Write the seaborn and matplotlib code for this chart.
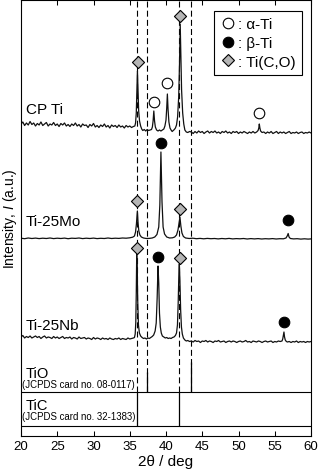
import numpy as np
import pandas as pd
import matplotlib
matplotlib.use("Agg")
import matplotlib.pyplot as plt
from matplotlib.lines import Line2D
import seaborn as sns

# ---------------- data ----------------
def seg(start, step, vals):
    return [(start + i * step, v) for i, v in enumerate(vals)]

# CP Ti pattern (intensity, a.u.)
cp_ti = (
    seg(20.0, 0.25, [11, 13, 9.5, 12, 10, 13.5, 10.5, 12, 9, 11.5, 10, 13, 9.5, 11, 12.5, 9,
                     11, 10, 12.5, 9.5, 11, 8.5, 11.5, 10, 12, 9, 10.5, 8.5, 11, 9.5, 12, 9,
                     10.5, 8, 11, 9.5, 10, 7.5, 10.5, 9, 11.5, 8, 9.5, 7.5, 10, 8.5, 11, 8,
                     9.5, 7, 10, 8.5, 9.5, 7.5, 10, 8, 9, 7, 9.5, 8, 9, 7.5, 8.5])
    + [(35.7, 9), (35.8, 12), (35.9, 22), (35.98, 45), (36.06, 64), (36.14, 44), (36.23, 24),
       (36.35, 14), (36.5, 9), (36.65, 6), (36.8, 4.5), (37.0, 5.5), (37.2, 4), (37.4, 5.5),
       (37.6, 4.5), (37.8, 5), (38.0, 5.5), (38.12, 8), (38.22, 14), (38.32, 24), (38.42, 14),
       (38.53, 8), (38.7, 5), (38.9, 4), (39.1, 5), (39.3, 4), (39.5, 5), (39.7, 6), (39.85, 9),
       (40.0, 15), (40.1, 27), (40.19, 41), (40.28, 26), (40.4, 13), (40.55, 7), (40.7, 5),
       (40.85, 3.5), (41.0, 4.5), (41.15, 5.5), (41.3, 7), (41.45, 10), (41.6, 18), (41.75, 38),
       (41.86, 70), (41.96, 111), (42.05, 80), (42.15, 45), (42.3, 22), (42.45, 11), (42.6, 5),
       (42.8, 3), (43.0, 2.5), (43.25, 3.5)]
    + seg(43.5, 0.25, [3, 1.5, 3.5, 2, 4, 2.5, 3.5, 1.5, 3, 4, 2, 3.5, 2.5, 4, 2, 3, 1.5, 3.5,
                       2.5, 4, 2, 3, 1.5, 3.5, 2.5, 3.5, 1.5, 3, 2, 3.5, 2.5, 1.5, 3, 2, 3.5, 2, 3])
    + [(52.7, 4.5), (52.8, 7), (52.87, 11), (52.95, 7), (53.05, 4)]
    + seg(53.25, 0.25, [2.5, 3, 1.5, 3, 2, 3.5, 1.5, 2.5, 3.5, 1.5, 3, 2, 3, 1.5, 2.5, 3.5,
                        1.5, 2.5, 2, 3, 1.5, 2.5, 3, 1.5, 2.5, 2, 3, 2])
)

# Ti-25Mo pattern
ti25mo = [
    (20, 1.8), (20.5, 1.3), (21, 2), (21.5, 1.5), (22, 1.9), (22.5, 1.4), (23, 1.8), (23.5, 1.5),
    (24, 2), (24.5, 1.4), (25, 1.8), (25.5, 1.5), (26, 1.9), (26.5, 1.3), (27, 1.8), (27.5, 1.6),
    (28, 2), (28.5, 1.4), (29, 1.8), (29.5, 1.5), (30, 1.9), (30.5, 1.4), (31, 1.7), (31.5, 1.5),
    (32, 2), (32.5, 1.5), (33, 1.8), (33.5, 1.6), (34, 2), (34.5, 1.8), (35, 2.2), (35.4, 2.8),
    (35.65, 4), (35.8, 8), (35.92, 16), (36.05, 29), (36.15, 17), (36.25, 9), (36.4, 5),
    (36.6, 3), (36.9, 2), (37.3, 1.5), (37.7, 1.6), (38.1, 2), (38.45, 3), (38.75, 5.5),
    (39.0, 13), (39.15, 35), (39.3, 88), (39.45, 38), (39.6, 13), (39.8, 6), (40.1, 3),
    (40.5, 2), (40.9, 2.2), (41.2, 3), (41.45, 5), (41.65, 10), (41.8, 17), (41.92, 23),
    (42.05, 14), (42.2, 7), (42.4, 3.5), (42.7, 2), (43.2, 1.5), (43.7, 1.8), (44.2, 1.3),
    (44.7, 1.6), (45.2, 1.2), (45.7, 1.6), (46.2, 1.3), (46.7, 1.5), (47.2, 1.1), (47.7, 1.5),
    (48.2, 1.2), (48.7, 1.6), (49.2, 1.1), (49.7, 1.4), (50.2, 1.2), (50.7, 1.5), (51.2, 1),
    (51.7, 1.4), (52.2, 1.1), (52.7, 1.4), (53.2, 1), (53.7, 1.3), (54.2, 1.1), (54.7, 1.4),
    (55.2, 1), (55.7, 1.3), (56.2, 1.2), (56.55, 2), (56.72, 4), (56.85, 6.5), (56.97, 3),
    (57.15, 1.5), (57.6, 1.1), (58.1, 1.3), (58.6, 0.9), (59.1, 1.2), (59.6, 0.9), (60, 1.1),
]

# Ti-25Nb pattern
ti25nb = (
    seg(20.0, 0.25, [6, 7.5, 5, 6.5, 5.5, 7, 5, 6, 7, 5.5, 6.5, 4.5, 6, 7, 5, 6, 5.5, 4.5, 6.5, 5,
                     6, 4.5, 5.5, 6.5, 4.5, 5.5, 5, 6, 4, 5.5, 5, 4, 6, 4.5, 5, 5.5, 4, 5, 4.5, 3.5,
                     5.5, 4, 5, 4.5, 3.5, 5, 4, 4.5, 3.5, 5, 4, 3.5, 4.5, 4, 5, 3.5, 4.5, 4, 3.5, 5,
                     4, 4.5, 5])
    + [(35.65, 5.5), (35.75, 9), (35.83, 20), (35.9, 50), (35.96, 89), (36.03, 72), (36.1, 42),
       (36.2, 18), (36.33, 10), (36.5, 7), (36.7, 5.5), (36.9, 4.5), (37.1, 5), (37.3, 4),
       (37.5, 5), (37.7, 4.5), (37.9, 5.5), (38.1, 6.5), (38.3, 8), (38.5, 12), (38.65, 20),
       (38.78, 45), (38.9, 77), (39.0, 60), (39.1, 30), (39.22, 16), (39.35, 10), (39.5, 7),
       (39.7, 6), (39.9, 5), (40.1, 5.5), (40.3, 4.5), (40.5, 5), (40.7, 4.5), (40.9, 5.5),
       (41.1, 6), (41.3, 7.5), (41.45, 10), (41.58, 18), (41.68, 40), (41.78, 70), (41.84, 79),
       (41.92, 62), (42.02, 33), (42.13, 16), (42.25, 9), (42.4, 5), (42.6, 3), (42.8, 2),
       (43.0, 2.5), (43.25, 1.5)]
    + seg(43.5, 0.25, [2, 1, 2.5, 1.5, 2, 0.5, 2, 1.5, 2.5, 1, 2, 1.5, 0.5, 2, 1.5, 2.5, 1, 1.5,
                       2, 0.5, 1.5, 2, 1, 2, 1.5, 0.5, 1.5, 2, 1, 1.5, 2.5, 1, 1.5, 0.5, 2, 1.5,
                       1, 2, 1.5, 0.5, 1.5, 2, 1, 1.5, 2, 0.5, 1.5, 1, 2, 1.5])
    + [(56.0, 2), (56.1, 4), (56.2, 8), (56.27, 11), (56.35, 6), (56.45, 3), (56.6, 1.5)]
    + seg(56.75, 0.25, [1, 1.5, 0.5, 1.5, 1, 2, 0.5, 1.5, 1, 1.5, 0.5, 1.5, 1, 1.5])
)

trace_names = ["CP Ti", "Ti-25Mo", "Ti-25Nb"]
trace_data = [cp_ti, ti25mo, ti25nb]

# phase markers: (trace, 2theta, phase, marker height a.u.)
marker_trace = ["CP Ti"] * 5 + ["Ti-25Mo"] * 4 + ["Ti-25Nb"] * 4
marker_theta = [36.1, 38.3, 40.2, 41.97, 52.87, 36.05, 39.35, 41.92, 56.87, 35.98, 38.92, 41.88, 56.27]
marker_phase = ["TiCO", "alpha", "alpha", "TiCO", "alpha",
                "TiCO", "beta", "TiCO", "beta",
                "TiCO", "beta", "TiCO", "beta"]
marker_height = [73, 33, 52, 119, 22, 39, 97, 31, 20, 95, 86, 85, 21]

# reference cards (2theta, stick height)
tio_theta = [37.35, 43.4]
tio_height = [20.3, 30.3]
tic_theta = [35.96, 41.79]
tic_height = [34, 34]

legend_labels = [": α-Ti", ": β-Ti", ": Ti(C,O)"]
x_ticks = [20, 25, 30, 35, 40, 45, 50, 55, 60]

# ---------------- layout ----------------
offsets = {"CP Ti": 300.5, "Ti-25Mo": 195.5, "Ti-25Nb": 92.5}
label_y = {"CP Ti": 322.5, "Ti-25Mo": 210, "Ti-25Nb": 106.5}
tio_base = 43.2
tic_base = 9.2
y_top = 436

sns.set_style("ticks")
plt.rcParams["font.family"] = ["Liberation Sans", "DejaVu Sans"]
plt.rcParams["mathtext.fontset"] = "custom"
plt.rcParams["mathtext.it"] = "Liberation Sans:italic"
plt.rcParams["mathtext.rm"] = "Liberation Sans"
plt.rcParams["lines.scale_dashes"] = False
plt.rcParams["text.color"] = "black"
plt.rcParams["axes.labelcolor"] = "black"
plt.rcParams["xtick.color"] = "black"

fig = plt.figure(figsize=(3.2, 4.77), dpi=100)
ax = fig.add_axes([21 / 320, (477 - 436.5) / 477, 290 / 320, 436 / 477])

# dashed guide lines
for t in tic_theta + tio_theta:
    ax.plot([t, t], [tio_base, y_top], color="black", lw=0.8, ls=(0, (4.3, 2.3)), zorder=1)

# patterns
for name, pts in zip(trace_names, trace_data):
    df = pd.DataFrame(pts, columns=["two_theta", "intensity"])
    df["y"] = df["intensity"] + offsets[name]
    sns.lineplot(data=df, x="two_theta", y="y", color="#111111", lw=0.9,
                 estimator=None, sort=True, ax=ax, zorder=2)
    ax.text(20.7, label_y[name], name, fontsize=11, ha="left", va="baseline")

# markers
mk = pd.DataFrame({"trace": marker_trace, "two_theta": marker_theta,
                   "phase": marker_phase, "height": marker_height})
mk["y"] = mk["height"] + mk["trace"].map(offsets)
styles = {
    "alpha": dict(marker="o", s=58, color="white"),
    "beta": dict(marker="o", s=58, color="black"),
    "TiCO": dict(marker="D", s=38, color="#b5b5b5"),
}
for ph, st in styles.items():
    sub = mk[mk["phase"] == ph]
    sns.scatterplot(data=sub, x="two_theta", y="y", marker=st["marker"], s=st["s"],
                    color=st["color"], edgecolor="black", linewidth=0.8, zorder=5,
                    legend=False, ax=ax)

# reference sticks and separators
ax.vlines(tio_theta, tio_base, [tio_base + h for h in tio_height], color="black", lw=0.9, zorder=3)
ax.vlines(tic_theta, tic_base, [tic_base + h for h in tic_height], color="black", lw=0.9, zorder=3)
ax.axhline(tio_base, color="black", lw=0.8, zorder=3)
ax.axhline(tic_base, color="black", lw=0.8, zorder=3)

ax.text(20.7, 58.2, "TiO", fontsize=10.5, ha="left", va="baseline")
ax.text(20.1, 48.2, "(JCPDS card no. 08-0117)", fontsize=6.9, ha="left", va="baseline")
ax.text(20.7, 26.5, "TiC", fontsize=10.5, ha="left", va="baseline")
ax.text(20.1, 16.5, "(JCPDS card no. 32-1383)", fontsize=6.9, ha="left", va="baseline")

# legend
handles = [
    Line2D([], [], ls="none", marker="o", ms=7.6, mfc="white", mec="black", mew=0.8),
    Line2D([], [], ls="none", marker="o", ms=7.6, mfc="black", mec="black", mew=0.8),
    Line2D([], [], ls="none", marker="D", ms=6.2, mfc="#b5b5b5", mec="black", mew=0.8),
]
leg = ax.legend(handles, legend_labels, loc="upper right", bbox_to_anchor=(0.969, 0.974),
                borderaxespad=0, frameon=True, fancybox=False, framealpha=1,
                edgecolor="black", fontsize=11, handlelength=1.0, handletextpad=0.16,
                labelspacing=0.31, borderpad=0.42)
leg.get_frame().set_linewidth(0.8)

# axes
ax.set_xlim(20, 60)
ax.set_ylim(0, y_top)
ax.set_xticks(x_ticks)
ax.tick_params(axis="x", direction="in", top=True, length=3.5, width=0.75,
               labelsize=9.5, pad=3, color="black", labelcolor="black")
ax.tick_params(axis="y", left=False, labelleft=False)
for sp in ax.spines.values():
    sp.set_visible(True)
    sp.set_linewidth(0.8)
    sp.set_color("black")
ax.set_xlabel("2θ / deg", fontsize=11, labelpad=2)
ax.set_ylabel("Intensity, $\\mathit{I}$ (a.u.)", fontsize=10, labelpad=1.5)

fig.savefig("out.png", dpi=100)
